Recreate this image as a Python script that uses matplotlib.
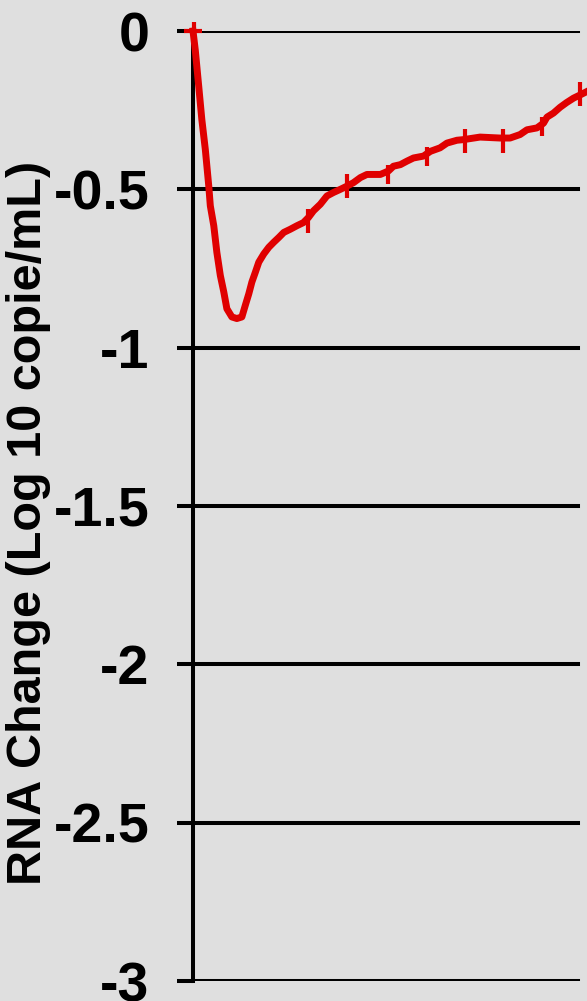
import numpy as np
import matplotlib
matplotlib.use('Agg')
import matplotlib.pyplot as plt

# curva de cambio de ARN viral (log10 copias/mL)
dias = [0, 0.6, 1.5, 2.3, 3.2, 4.1, 4.5, 5.4, 6.2, 7.1, 8.0, 8.8, 10.1, 11.4,
        12.7, 13.6, 14.5, 15.3, 16.2, 17.1, 18.4, 19.7, 21.0, 22.3, 23.6,
        25.3, 27.0, 28.7, 30.0, 31.3, 33.1, 34.8, 36.5, 38.3, 40.0, 41.7,
        43.5, 45.2, 48.7, 50.8, 52.1, 53.9, 55.6, 57.3, 59.9, 61.7, 64.2,
        66.0, 68.6, 70.3, 74.6, 79.8, 82.4, 85.0, 86.8, 89.4, 91.1, 92.0,
        93.7, 95.4, 97.1, 98.9, 100.6, 102.4]
cambio = [0, -0.061, -0.176, -0.280, -0.374, -0.490, -0.552, -0.615, -0.699,
          -0.772, -0.824, -0.877, -0.903, -0.908, -0.903, -0.866, -0.830,
          -0.793, -0.762, -0.730, -0.704, -0.683, -0.667, -0.652, -0.636,
          -0.626, -0.615, -0.605, -0.589, -0.568, -0.547, -0.521, -0.510,
          -0.500, -0.490, -0.479, -0.463, -0.453, -0.453, -0.442, -0.427,
          -0.422, -0.411, -0.401, -0.395, -0.380, -0.369, -0.354, -0.345,
          -0.343, -0.335, -0.338, -0.338, -0.327, -0.312, -0.306, -0.291,
          -0.272, -0.259, -0.241, -0.226, -0.212, -0.202, -0.191]

# barras de error
dias_err = [0.2, 30.0, 40.0, 50.8, 60.8, 70.8, 80.5, 90.6, 100.6]
cambio_err = [0, -0.60, -0.49, -0.453, -0.395, -0.348, -0.348, -0.30, -0.20]
err = [0.03, 0.038, 0.038, 0.03, 0.03, 0.038, 0.038, 0.03, 0.038]

yticks = [0, -0.5, -1, -1.5, -2, -2.5, -3]
ytick_labels = ['0', '-0.5', '-1', '-1.5', '-2', '-2.5', '-3']

gris = '#DFDFDF'
rojo = '#E00000'

fig = plt.figure(figsize=(5.87, 10.01), dpi=100, facecolor=gris)
ax = fig.add_axes([193/587, 20/1001, 394/587, 950/1001], facecolor=gris)

for y in yticks:
    ax.axhline(y, xmin=0, xmax=100/102.4, color='black', lw=2.9, zorder=1)

ax.plot(dias, cambio, color=rojo, lw=5, clip_on=False, zorder=3)
ax.errorbar(dias_err, cambio_err, yerr=err, fmt='none', ecolor=rojo,
            elinewidth=3, capsize=0, clip_on=False, zorder=3)
ax.plot(dias[0], cambio[0], marker='_', ms=13, mew=3, color=rojo,
        clip_on=False, zorder=4)

ax.set_xlim(0, 102.4)
ax.set_ylim(-3, 0)
ax.set_yticks(yticks)
ax.set_yticklabels(ytick_labels, family=['Liberation Sans Narrow', 'Liberation Sans'],
                   fontweight='bold', fontsize=40)
ax.tick_params(axis='y', direction='out', length=11.5, width=2.9, pad=20,
               colors='black')
ax.set_xticks([])
for s in ['top', 'right', 'bottom']:
    ax.spines[s].set_visible(False)
ax.spines['left'].set_linewidth(2.9)

fig.text(29/587, 1 - 523/1001, 'RNA Change (Log 10 copie/mL)', rotation=90,
         ha='center', va='center', family='Liberation Sans', fontweight='bold',
         fontsize=35)

fig.savefig('out.png', dpi=100, facecolor=gris)
